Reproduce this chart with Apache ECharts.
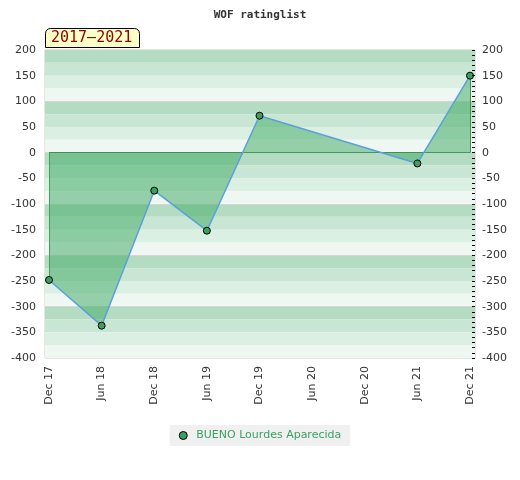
<!DOCTYPE html>
<html>
<head>
<meta charset="utf-8">
<script src="https://cdn.jsdelivr.net/npm/echarts@6/dist/echarts.min.js"></script>
<style>
  html, body { margin: 0; padding: 0; background: #fff; }
  #chart { width: 520px; height: 480px; }
</style>
</head>
<body>
<div id="chart"></div>
<script>
// tick labels of the time axis (every 6 months)
var months = ['Dec 17', 'Jun 18', 'Dec 18', 'Jun 19', 'Dec 19', 'Jun 20', 'Dec 20', 'Jun 21', 'Dec 21'];
// rating list dates and values
var dates = ['Dec 17', 'Jun 18', 'Dec 18', 'Jun 19', 'Dec 19', 'Jun 21', 'Dec 21'];
var ratings = [-248, -337, -74, -152, 72, -21, 150];
var playerName = 'BUENO Lourdes Aparecida';
var period = '2017\u20132021';
// y axis
var yMin = -400, yMax = 200, yStep = 50;
// background stripes, dark to light, 25 units each
var bandColors = ['#b3dcc2', '#c8e6d3', '#dcefe3', '#eef7f1'];

var chart = echarts.init(document.getElementById('chart'));

// stripe areas for the plot background
var bands = [];
var k = 0;
for (var v = yMax; v > yMin; v -= 25) {
    bands.push([
        { yAxis: v, itemStyle: { color: bandColors[k % 4] } },
        { yAxis: v - 25 }
    ]);
    k++;
}

var points = dates.map(function (d, i) { return [d, ratings[i]]; });
var last = dates.length - 1;

var yBase = {
    type: 'value', min: yMin, max: yMax, interval: yStep,
    axisLine: { show: false },
    axisLabel: { color: '#333', fontSize: 11, fontFamily: 'DejaVu Sans' }
};

var option = {
    animation: false,
    title: [
        {
            text: 'WOF ratinglist',
            left: 'center', top: 5,
            textStyle: { fontFamily: 'DejaVu Sans Mono', fontSize: 11, fontWeight: 'bold', color: '#333' }
        },
        {
            text: period,
            left: 45, top: 28,
            backgroundColor: '#ffffc8',
            borderColor: '#000', borderWidth: 1,
            borderRadius: [5, 5, 0, 0],
            padding: [3, 7, 2, 6],
            textStyle: { fontFamily: 'DejaVu Sans Mono', fontSize: 15, fontWeight: 'normal', color: '#8b0000' }
        }
    ],
    legend: {
        data: [playerName],
        top: 425, left: 'center',
        backgroundColor: '#f0f0f0',
        padding: [5, 9],
        itemGap: 6,
        icon: 'circle', itemWidth: 8, itemHeight: 8,
        itemStyle: { borderColor: '#000', borderWidth: 1 },
        textStyle: { color: '#3aa060', fontSize: 11, fontFamily: 'DejaVu Sans', padding: [0, 0, 0, 4] }
    },
    grid: [
        { left: 45, right: 45, top: 50, bottom: 122, show: true, borderColor: '#ccc', borderWidth: 1 },
        { left: 49, right: 50, top: 50, bottom: 122 }
    ],
    xAxis: [
        { gridIndex: 0, type: 'value', min: 0, max: 1, show: false },
        {
            gridIndex: 1, type: 'category', data: months, boundaryGap: false,
            axisLine: { show: false }, axisTick: { show: false },
            axisLabel: { rotate: 90, interval: 0, color: '#333', fontSize: 11, fontFamily: 'DejaVu Sans', margin: 8 }
        }
    ],
    yAxis: [
        Object.assign({}, yBase, {
            gridIndex: 0, position: 'left',
            axisTick: { show: false },
            axisLabel: Object.assign({}, yBase.axisLabel, { margin: 9 }),
            splitLine: { show: false }
        }),
        Object.assign({}, yBase, {
            gridIndex: 0, position: 'right', z: 20,
            axisTick: { show: true, inside: true, length: 3, lineStyle: { color: '#000' } },
            minorTick: { show: true, splitNumber: 5, length: 3, lineStyle: { color: '#000' } },
            axisLabel: Object.assign({}, yBase.axisLabel, { margin: 7 }),
            splitLine: { show: false }
        }),
        Object.assign({}, yBase, { gridIndex: 1, show: false, splitLine: { show: false } })
    ],
    series: [
        {
            type: 'line', xAxisIndex: 0, yAxisIndex: 0, data: [],
            silent: true, z: 1,
            markArea: { silent: true, data: bands },
            markLine: {
                silent: true, symbol: 'none', label: { show: false },
                lineStyle: { color: '#d6d6d6', type: 'solid', width: 1 },
                data: [{ yAxis: 100 }, { yAxis: 0 }, { yAxis: -100 }, { yAxis: -200 }, { yAxis: -300 }]
            }
        },
        {
            name: playerName, type: 'line', xAxisIndex: 1, yAxisIndex: 2,
            z: 5,
            data: points,
            symbol: 'circle', symbolSize: 7,
            itemStyle: { color: '#3aa060', borderColor: '#000', borderWidth: 1 },
            lineStyle: { color: '#5aa0dc', width: 1.5 },
            areaStyle: { color: 'rgb(72,174,107)', opacity: 0.54 },
            markLine: {
                silent: true, symbol: 'none', label: { show: false },
                lineStyle: { color: '#3a9050', type: 'solid', width: 1 },
                data: [
                    { yAxis: 0 },
                    [{ coord: [dates[0], 0] }, { coord: [dates[0], ratings[0]] }],
                    [{ coord: [dates[last], 0] }, { coord: [dates[last], ratings[last]] }]
                ]
            }
        }
    ]
};

chart.setOption(option);
</script>
</body>
</html>
